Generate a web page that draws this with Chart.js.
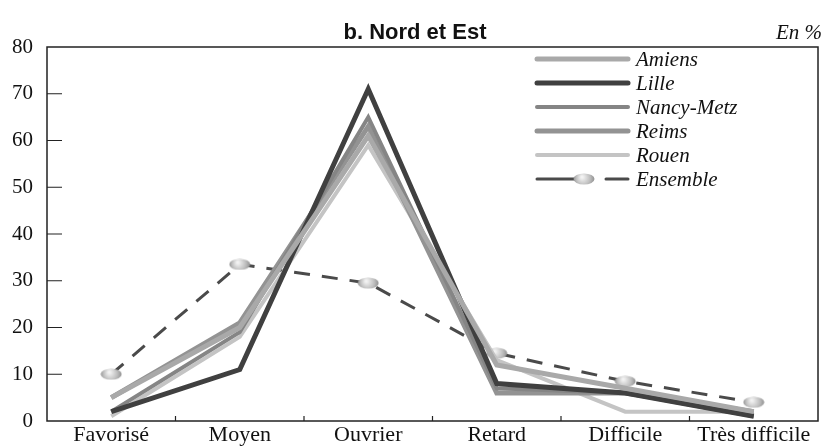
<!DOCTYPE html>
<html>
<head>
<meta charset="utf-8">
<script src="https://cdn.jsdelivr.net/npm/chart.js@4.4.1/dist/chart.umd.min.js"></script>
<style>
  html, body { margin: 0; padding: 0; background: #fff; }
  #wrap { width: 827px; height: 448px; }
</style>
</head>
<body>
<div id="wrap"><canvas id="line-chart" width="827" height="448"></canvas></div>
<script>
var categories = ["Favorisé", "Moyen", "Ouvrier", "Retard", "Difficile", "Très difficile"];
var yTicks = [0, 10, 20, 30, 40, 50, 60, 70, 80];

var amiens    = [5, 20, 61, 12, 7, 2];
var lille     = [2, 11, 71, 8, 6, 1];
var nancyMetz = [2, 19, 65, 7, 6, 1];
var reims     = [5, 21, 63, 6, 6, 2];
var rouen     = [1, 18, 59, 13, 2, 2];
var ensemble  = [10, 33.5, 29.5, 14.5, 8.5, 4];

// ellipse marker for "Ensemble"
function makeMarker() {
  var c = document.createElement('canvas');
  c.width = 22; c.height = 12;
  var g = c.getContext('2d');
  var grad = g.createRadialGradient(9, 4, 1, 11, 6, 11);
  grad.addColorStop(0, '#f2f2f2');
  grad.addColorStop(0.6, '#bdbdbd');
  grad.addColorStop(1, '#8c8c8c');
  g.fillStyle = grad;
  g.beginPath();
  g.ellipse(11, 6, 10.5, 5.5, 0, 0, Math.PI * 2);
  g.fill();
  return c;
}
var marker = makeMarker();

var boxPlugin = {
  id: 'boxPlugin',
  afterDraw: function (chart) {
    var ctx = chart.ctx;
    var a = chart.chartArea;
    var ys = chart.scales.y;
    ctx.save();
    // frame
    ctx.strokeStyle = '#222';
    ctx.lineWidth = 1.5;
    ctx.strokeRect(a.left, a.top, a.right - a.left, a.bottom - a.top);
    // inner ticks
    ctx.lineWidth = 1.2;
    ctx.beginPath();
    yTicks.forEach(function (v) {
      if (v === 0 || v === 80) return;
      var y = ys.getPixelForValue(v);
      ctx.moveTo(a.left, y);
      ctx.lineTo(a.left + 15, y);
    });
    var step = (a.right - a.left) / categories.length;
    for (var i = 1; i < categories.length; i++) {
      var x = a.left + step * i;
      ctx.moveTo(x, a.bottom);
      ctx.lineTo(x, a.bottom - 5);
    }
    ctx.stroke();

    // title
    ctx.fillStyle = '#111';
    ctx.font = 'bold 22px "Liberation Sans", Arial, sans-serif';
    ctx.textAlign = 'center';
    ctx.textBaseline = 'alphabetic';
    ctx.fillText('b. Nord et Est', 415, 39);
    ctx.font = 'italic 21px "Liberation Serif", "Times New Roman", serif';
    ctx.textAlign = 'right';
    ctx.fillText('En %', 822, 39);

    // legend
    var x0 = 537, x1 = 628, y0 = 59, dy = 24;
    ctx.textAlign = 'left';
    ctx.textBaseline = 'middle';
    chart.data.datasets.forEach(function (ds, k) {
      var y = y0 + dy * k;
      ctx.strokeStyle = ds.borderColor;
      ctx.lineWidth = ds.borderWidth;
      ctx.lineCap = 'round';
      ctx.beginPath();
      if (ds.borderDash && ds.borderDash.length) {
        ctx.moveTo(x0, y); ctx.lineTo(x0 + 40, y);
        ctx.moveTo(x1 - 22, y); ctx.lineTo(x1, y);
        ctx.stroke();
        ctx.drawImage(marker, x0 + 36, y - 6);
      } else {
        ctx.moveTo(x0, y); ctx.lineTo(x1, y);
        ctx.stroke();
      }
      ctx.fillStyle = '#111';
      ctx.fillText(ds.label, 636, y + 1);
    });
    ctx.restore();
  }
};

new Chart(document.getElementById("line-chart"), {
  type: 'line',
  data: {
    labels: categories,
    datasets: [
      { label: "Amiens", data: amiens, borderColor: "#a9a9a9", borderWidth: 5, pointRadius: 0 },
      { label: "Lille", data: lille, borderColor: "#404040", borderWidth: 5, pointRadius: 0 },
      { label: "Nancy-Metz", data: nancyMetz, borderColor: "#858585", borderWidth: 4, pointRadius: 0 },
      { label: "Reims", data: reims, borderColor: "#939393", borderWidth: 5, pointRadius: 0 },
      { label: "Rouen", data: rouen, borderColor: "#c4c4c4", borderWidth: 4, pointRadius: 0 },
      { label: "Ensemble", data: ensemble, borderColor: "#4a4a4a", borderWidth: 3,
        borderDash: [16, 12], pointStyle: marker, pointRadius: 6 }
    ]
  },
  options: {
    responsive: false,
    animation: false,
    layout: { padding: { top: 47, right: 6, left: 0, bottom: 0 } },
    elements: { line: { tension: 0, fill: false } },
    plugins: { legend: { display: false }, title: { display: false }, tooltip: { enabled: false } },
    scales: {
      x: {
        offset: true,
        grid: { display: false, drawTicks: false },
        border: { display: false },
        ticks: { color: '#111', padding: 1, maxRotation: 0,
          font: { family: '"Liberation Serif", "Times New Roman", serif', size: 22 } },
        afterFit: function (s) { s.height = 27; }
      },
      y: {
        min: 0, max: 80,
        grid: { display: false, drawTicks: false },
        border: { display: false },
        ticks: { stepSize: 10, color: '#111', padding: 14,
          font: { family: '"Liberation Serif", "Times New Roman", serif', size: 21 } },
        afterFit: function (s) { s.width = 47; }
      }
    }
  },
  plugins: [boxPlugin]
});
</script>
</body>
</html>
